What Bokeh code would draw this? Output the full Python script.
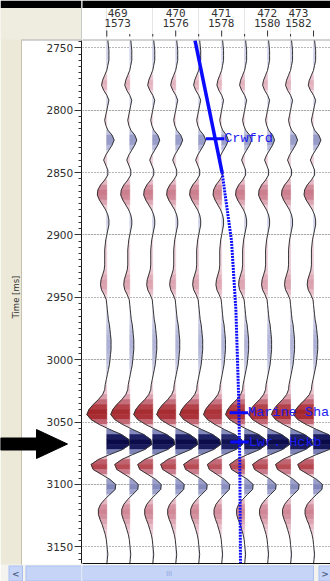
import numpy as np
from bokeh.plotting import figure
from bokeh.layouts import row
from bokeh.models import Range1d, SingleIntervalTicker, Grid, ColumnDataSource
from bokeh.core.properties import value
from bokeh.embed import file_html
from bokeh.resources import INLINE

# ---------------- data ----------------
sample_times = list(range(2744, 3168, 4))          # ms, one sample every 4 ms
amplitude = [
    1, 1.5, 2, 2, 2, 1, 0, -2, -4, -5,              # 2744-2780
    -3, 0, 2, 1, 0, -1, -2, -1, 1, 5,               # 2784-2820
    7, 5, 2, -1, -3, -1, 1, 1, -2, -6,              # 2824-2860
    -8.5, -9, -7, -4, -1, 1, 2, 2, 1, 0,            # 2864-2900
    -1, -1.5, -2, -2, -2, -2, -2.5, -4, -5.5, -6,   # 2904-2940
    -5, -2.5, -0.5, 0, 0.5, 1, 1.5, 2.5, 3, 3.5,    # 2944-2980
    4, 4, 4, 3.5, 3, 2.5, 1.5, 0.5, -0.5, -1.5,     # 2984-3020
    -2, -4, -8, -13, -17, -19, -15, -7, 3, 14,      # 3024-3060
    21, 22, 15, 3, -8, -15, -13, -5, 3, 8.5,        # 3064-3100
    8, 3, -2, -6, -8, -8, -6.5, -4.5, -3, -1.5,     # 3104-3140
    -0.5, 0, 0.5, 1, 0.5, 0,                        # 3144-3164
]
trace_gain = [1.05, 1.0, 1.0, 1.0, 1.0, 0.95, 1.0, 1.0, 1.0, 1.05]
header_inline = ["469", "470", "471", "472", "473"]
header_xline = ["1573", "1576", "1578", "1580", "1582"]
header_trace = [0.47, 3.0, 4.98, 6.98, 8.34]
header_long_ticks = [0, 3, 5, 7, 9]
header_short_ticks = [1, 2, 4, 6, 8]
well_solid_trace = [3.84, 5.02]
well_solid_time = [2744, 2850]
well_dot_trace = [5.02, 5.43, 5.62, 5.74, 5.79, 5.82]
well_dot_time = [2850, 2905, 2960, 3030, 3080, 3164]
top_names = ["Crwfrd", "Marine Sha", "Lwr. Hckb"]
top_times = [2823, 3042.5, 3066]
top_trace = [4.71, 5.75, 5.78]

# ------------- geometry ---------------
H = 581
W_L, W_M = 82, 248
SP = 22.97          # px per trace
PX_MS = 1.2475      # px per ms
T0_X = 106.3        # page x of first trace
t_top = 2744.15     # time at page y = 40 (top of the section)
t_end = t_top + 523 / PX_MS     # time at page y = 563
yr = Range1d(t_top + (H - 40) / PX_MS, t_top - 40 / PX_MS)


def cy(Y):
    return t_top + (Y - 40) / PX_MS


def cx(X):
    return (X - T0_X) / SP


BEIGE = "#ece9d8"
BEIGE2 = "#efece0"
SB_FILL, SB_LINE = "#c6d5f7", "#a9bff0"

# ------------- left panel with time axis ----------
L = figure(width=W_L, height=H, x_range=Range1d(0, W_L - 1), y_range=yr,
           output_backend="svg", toolbar_location=None, x_axis_location=None,
           y_axis_location="right", min_border_left=0, min_border_right=1,
           min_border_top=0, min_border_bottom=0, outline_line_color=None,
           background_fill_color="white", border_fill_color="white")
L.grid.visible = False
ya = L.yaxis[0]
ya.bounds = (t_top, t_end)
ya.ticker = SingleIntervalTicker(interval=50, num_minor_ticks=10)
ya.major_tick_in = 7
ya.major_tick_out = 0
ya.minor_tick_in = 3
ya.minor_tick_out = 0
ya.axis_line_color = "#1a1a1a"
ya.major_tick_line_color = "#333333"
ya.minor_tick_line_color = "#333333"
ya.major_label_standoff = -35
ya.major_label_text_font = "DejaVu Sans"
ya.major_label_text_font_size = "10.5px"
ya.major_label_text_color = "#2e2e2e"


def lquad(X0, X1, Y0, Y1, color):
    L.quad(left=X0, right=X1, top=cy(Y0), bottom=cy(Y1), fill_color=color, line_color=None)


lquad(0, 21, 7.5, 565, BEIGE)
lquad(20.5, 21.5, 7.5, 565, "#c6c2ae")
lquad(0, 81, 7.5, 39, BEIGE2)
lquad(80.5, 81.5, 7.5, 39, "#9a9a9a")
lquad(21.5, 81, 39, 40, "#a8a8a8")
lquad(0, 81, 0, 7.5, "#000000")
L.text(x=[15.5], y=[cy(296.5)], text=["Time [ms]"], angle=np.pi / 2, text_align="center",
       text_baseline="middle", text_font=value("DejaVu Sans"), text_font_size="8.5px",
       text_color="#333333")
# scrollbar, left part
lquad(0, 81, 564, 581, "#f4f3ee")
lquad(8, 22.5, 565, 581, SB_LINE)
lquad(9, 21.5, 566, 580, SB_FILL)
lquad(25, 81, 565, 581, SB_LINE)
lquad(26, 81, 566, 580, SB_FILL)
L.text(x=[15.2], y=[cy(573)], text=["<"], text_align="center", text_baseline="middle",
       text_font=value("DejaVu Sans"), text_font_size="9px", text_font_style="bold",
       text_color="#4d6185")
# black pointer arrow
ax = [0, 36, 36, 67, 36, 36, 0]
ay = [437.5, 437.5, 429, 443.5, 458, 449.5, 449.5]
L.patch(ax, [cy(v) for v in ay], fill_color="#000000", line_color="#000000")

# ------------- main section ----------
M = figure(width=W_M, height=H, x_range=Range1d(cx(82), cx(330)), y_range=yr,
           output_backend="svg", toolbar_location=None, x_axis_location=None,
           y_axis_location=None, min_border_left=0, min_border_right=0,
           min_border_top=0, min_border_bottom=0, outline_line_color=None,
           background_fill_color="white", border_fill_color="white")
M.add_layout(Grid(dimension=1, ticker=SingleIntervalTicker(interval=50),
                  grid_line_color="#6e6e6e", grid_line_dash="1 2"))

# ------------- colours ----------------
RED = [(0.0, (246, 230, 236)), (0.15, (234, 194, 205)), (0.4, (204, 126, 142)),
       (0.7, (178, 62, 70)), (0.85, (164, 40, 44)), (1.0, (150, 28, 32))]
BLUE = [(0.0, (232, 232, 246)), (0.1, (204, 206, 232)), (0.22, (164, 168, 208)),
        (0.4, (128, 134, 186)), (0.6, (78, 84, 148)), (0.8, (30, 32, 100)), (1.0, (10, 10, 72))]
FULL = 22.0


def ramp(stops, f):
    f = min(max(f, 0.0), 1.0)
    for (f0, c0), (f1, c1) in zip(stops[:-1], stops[1:]):
        if f <= f1:
            u = (f - f0) / (f1 - f0)
            return "#%02x%02x%02x" % tuple(int(round(c0[k] + (c1[k] - c0[k]) * u)) for k in range(3))
    return "#%02x%02x%02x" % stops[-1][1]


def amp_color(a):
    return ramp(BLUE if a > 0 else RED, abs(a) / FULL)


pxs, pys, pcs = [], [], []
wx, wy = [], []
tt = sample_times
for i, g in enumerate(trace_gain):
    a = [v * g for v in amplitude]
    wx.append([i + v / SP for v in a])
    wy.append(tt)
    for j in range(len(tt) - 1):
        a0, a1 = a[j], a[j + 1]
        t0, t1 = tt[j], tt[j + 1]
        if a0 == 0 and a1 == 0:
            continue
        if a0 * a1 < 0:
            tc = t0 + (t1 - t0) * a0 / (a0 - a1)
            pxs += [[i, i + a0 / SP, i], [i, i + a1 / SP, i]]
            pys += [[t0, t0, tc], [tc, t1, t1]]
            pcs += [amp_color(a0 / 2), amp_color(a1 / 2)]
        else:
            pxs.append([i, i + a0 / SP, i + a1 / SP, i])
            pys.append([t0, t0, t1, t1])
            pcs.append(amp_color((a0 + a1) / 2))

src = ColumnDataSource(dict(xs=pxs, ys=pys, c=pcs))
M.patches("xs", "ys", source=src, fill_color="c", line_color="c", line_width=0.6)
M.multi_line(wx, wy, line_color="#353535", line_width=1)

# well path and formation tops
WELL = "#0a0aff"
M.line(well_solid_trace, well_solid_time, line_color=WELL, line_width=3.5)
M.line(well_dot_trace, well_dot_time, line_color=WELL, line_width=3, line_dash="2 1")
HALF = 0.4
M.segment(x0=[x - HALF for x in top_trace], x1=[x + HALF for x in top_trace],
          y0=top_times, y1=top_times, line_color=WELL, line_width=3)
M.text(x=[x + HALF for x in top_trace], y=top_times, text=top_names,
       text_font=value("Liberation Mono"), text_font_size="13.5px", text_color="#1c1cf0",
       text_baseline="middle", text_align="left")


def mquad(X0, X1, Y0, Y1, color):
    M.quad(left=cx(X0), right=cx(X1), top=cy(Y0), bottom=cy(Y1), fill_color=color, line_color=None)


# header (trace annotation)
mquad(80, 340, 0, 7.5, "#000000")
mquad(80, 340, 39, 40, "#a8a8a8")
M.segment(x0=header_long_ticks, x1=header_long_ticks, y0=[cy(30)] * 5, y1=[cy(36)] * 5,
          line_color="#333333", line_width=1)
M.segment(x0=header_short_ticks, x1=header_short_ticks, y0=[cy(33.5)] * 5, y1=[cy(36)] * 5,
          line_color="#333333", line_width=1)
M.text(x=header_trace, y=[cy(12.5)] * 5, text=header_inline, text_align="center",
       text_baseline="middle", text_font=value("DejaVu Sans Mono"), text_font_size="11px",
       text_color="#333333")
M.text(x=header_trace, y=[cy(22)] * 5, text=header_xline, text_align="center",
       text_baseline="middle", text_font=value("DejaVu Sans Mono"), text_font_size="11px",
       text_color="#333333")

# bottom frame line and scrollbar
mquad(80, 340, 562.5, 563.5, "#111111")
mquad(80, 340, 564, 581, "#f4f3ee")
mquad(80, 313.5, 565, 581, SB_LINE)
mquad(80, 312.5, 566, 580, SB_FILL)
mquad(318, 340, 565, 581, SB_LINE)
mquad(319, 340, 566, 580, SB_FILL)
M.text(x=[cx(168.5)], y=[cy(573)], text=["III"], text_align="center", text_baseline="middle",
       text_font=value("DejaVu Sans"), text_font_size="7px", text_color="#8ea6dc")
M.text(x=[cx(324.5)], y=[cy(573)], text=[">"], text_align="center", text_baseline="middle",
       text_font=value("DejaVu Sans"), text_font_size="9px", text_font_style="bold",
       text_color="#4d6185")

page = row(L, M, spacing=0)
open("out.html", "w").write(file_html(page, INLINE))
